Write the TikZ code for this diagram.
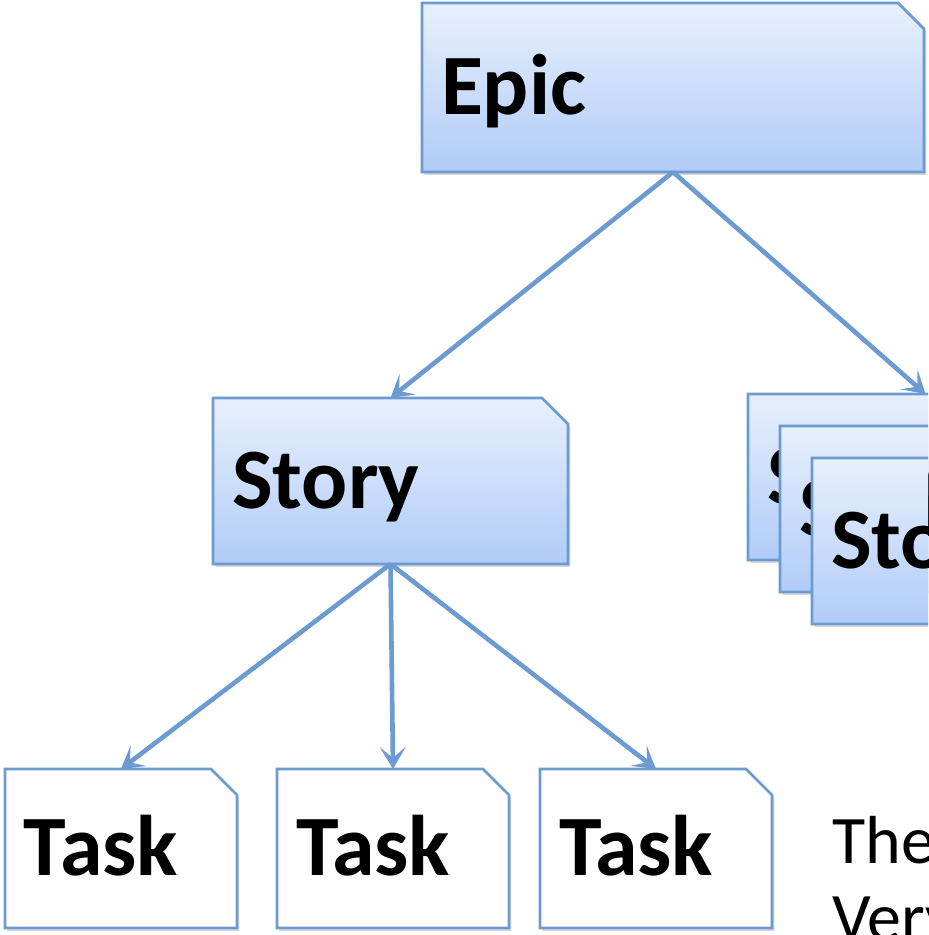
\documentclass[tikz,border=0pt]{standalone}
\usepackage{fontspec}
\setmainfont{Carlito}
\usepackage{tikz}
\usetikzlibrary{arrows.meta,shadows}

\definecolor{cardline}{RGB}{108,155,210}
\definecolor{cardtop}{RGB}{232,240,253}
\definecolor{cardbot}{RGB}{176,204,248}

\makeatletter
\pgfdeclareshape{notecard}{
  \inheritsavedanchors[from=rectangle]
  \inheritanchorborder[from=rectangle]
  \inheritanchor[from=rectangle]{center}
  \inheritanchor[from=rectangle]{north}
  \inheritanchor[from=rectangle]{south}
  \inheritanchor[from=rectangle]{east}
  \inheritanchor[from=rectangle]{west}
  \inheritanchor[from=rectangle]{north east}
  \inheritanchor[from=rectangle]{north west}
  \inheritanchor[from=rectangle]{south east}
  \inheritanchor[from=rectangle]{south west}
  \backgroundpath{
    \southwest \pgf@xa=\pgf@x \pgf@ya=\pgf@y
    \northeast \pgf@xb=\pgf@x \pgf@yb=\pgf@y
    \pgf@xc=\pgf@xb \advance\pgf@xc by-13pt
    \pgf@yc=\pgf@yb \advance\pgf@yc by-13pt
    \pgfpathmoveto{\pgfpoint{\pgf@xa}{\pgf@ya}}
    \pgfpathlineto{\pgfpoint{\pgf@xa}{\pgf@yb}}
    \pgfpathlineto{\pgfpoint{\pgf@xc}{\pgf@yb}}
    \pgfpathlineto{\pgfpoint{\pgf@xb}{\pgf@yc}}
    \pgfpathlineto{\pgfpoint{\pgf@xb}{\pgf@ya}}
    \pgfpathclose
  }
}
\makeatother

\tikzset{
  card/.style={shape=notecard, draw=cardline, line width=1.4pt, outer sep=0pt,
    inner xsep=9.5pt, inner ysep=0pt, align=left, text height=27pt, text depth=0pt,
    font=\bfseries\fontsize{43}{50}\selectfont,
    drop shadow={opacity=0.3, shadow xshift=1.2pt, shadow yshift=-1.5pt}},
  bluecard/.style={card, top color=cardtop, bottom color=cardbot},
  whitecard/.style={card, fill=white},
  link/.style={draw=cardline, line width=2.3pt,
    -{Stealth[length=11pt, width=13pt, inset=5.5pt]}},
  notetext/.style={anchor=base west, inner sep=0pt, font=\fontsize{34}{40}\selectfont}
}

\begin{document}
\begin{tikzpicture}[x=0.5pt, y=-0.5pt]
  \useasboundingbox (0,0) rectangle (928,935);
  \clip (0,0) rectangle (928,935);

  \node[bluecard, text width=232pt, minimum height=84.5pt] (epic) at (673,87.5) {Epic};
  \node[bluecard, text width=158.5pt, minimum height=83pt] (story) at (390.5,481) {Story};

  \foreach \n/\x/\y in {1/925.5/477, 2/957.5/509, 3/989.5/541}
    \node[bluecard, text width=158.5pt, minimum height=83pt] (more\n) at (\x,\y) {Story};

  \foreach \n/\x in {1/121, 2/393, 3/656}
    \node[whitecard, text width=97pt, minimum height=79.5pt] (task\n) at (\x,848.5) {Task};

  \draw[link] (epic.south) -- (story.north);
  \draw[link] (epic.south) -- (more1.north);
  \foreach \n in {1,2,3}
    \draw[link] (story.south) -- (task\n.north);

  \node[notetext] (note1) at (832,863) {The};
  \node[notetext] (note2) at (832,940) {Very};
\end{tikzpicture}
\end{document}
